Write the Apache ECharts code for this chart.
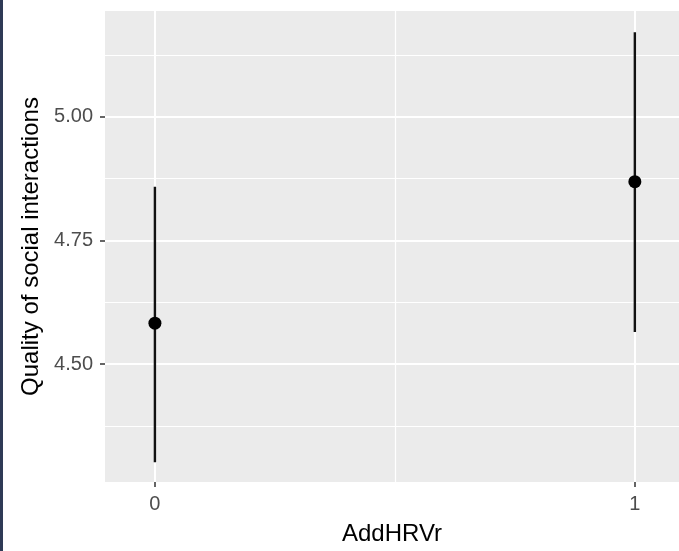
<!DOCTYPE html>
<html>
<head>
<meta charset="utf-8">
<script src="https://cdn.jsdelivr.net/npm/echarts@6/dist/echarts.min.js"></script>
<style>
    html, body { margin: 0; padding: 0; background: #fff; }
    #wrap { position: relative; width: 679px; height: 551px; }
    #edge { position: absolute; left: 0; top: 0; width: 3px; height: 551px; background: #2e3a56; z-index: 2; }
    #chartMain { width: 679px; height: 551px; }
</style>
</head>
<body>
<div id="wrap">
    <div id="edge"></div>
    <div id="chartMain"></div>
</div>
<script>
    // values
    var groups = [0, 1];
    var means = [4.583, 4.869];
    var lower = [4.302, 4.565];
    var upper = [4.859, 5.171];

    var xTicks = [0, 1];
    var xMinor = [0.5];
    var yTicks = [4.50, 4.75, 5.00];
    var yMinor = [4.375, 4.625, 4.875, 5.125];
    var xRange = [-0.104, 1.092];
    var yRange = [4.262, 5.214];

    var font = '"Liberation Sans", Arial, sans-serif';

    var pointData = groups.map(function (g, i) { return [g, means[i]]; });
    var barData = groups.map(function (g, i) { return [g, lower[i], upper[i]]; });

    var option = {
        animation: false,
        backgroundColor: '#fff',
        grid: {
            left: 105,
            right: 0,
            top: 11,
            bottom: 68,
            show: true,
            backgroundColor: '#ebebeb',
            borderWidth: 0
        },
        xAxis: [
            {
                type: 'value',
                min: xRange[0],
                max: xRange[1],
                name: 'AddHRVr',
                nameLocation: 'middle',
                nameGap: 40,
                nameTextStyle: { color: '#000', fontSize: 24, fontFamily: font },
                axisLine: { show: false, onZero: false },
                axisTick: { show: true, length: 5, customValues: xTicks, lineStyle: { color: '#333', width: 1.5 } },
                axisLabel: { customValues: xTicks, color: '#4d4d4d', fontSize: 20, fontFamily: font, margin: 12 },
                splitLine: { show: true, lineStyle: { color: '#fff', width: 2 } }
            },
            {
                // minor grid
                type: 'value',
                min: xRange[0],
                max: xRange[1],
                axisLine: { show: false, onZero: false },
                axisTick: { show: false, customValues: xMinor },
                axisLabel: { show: false },
                splitLine: { show: true, lineStyle: { color: '#fff', width: 1.2 } }
            }
        ],
        yAxis: [
            {
                type: 'value',
                min: yRange[0],
                max: yRange[1],
                name: 'Quality of social interactions',
                nameLocation: 'middle',
                nameGap: 62,
                nameTextStyle: { color: '#000', fontSize: 24, fontFamily: font },
                axisLine: { show: false, onZero: false },
                axisTick: { show: true, length: 5, customValues: yTicks, lineStyle: { color: '#333', width: 1.5 } },
                axisLabel: {
                    customValues: yTicks,
                    color: '#4d4d4d',
                    fontSize: 20,
                    fontFamily: font,
                    margin: 12,
                    formatter: function (v) { return v.toFixed(2); }
                },
                splitLine: { show: true, lineStyle: { color: '#fff', width: 2 } }
            },
            {
                // minor grid
                type: 'value',
                min: yRange[0],
                max: yRange[1],
                axisLine: { show: false, onZero: false },
                axisTick: { show: false, customValues: yMinor },
                axisLabel: { show: false },
                splitLine: { show: true, lineStyle: { color: '#fff', width: 1.2 } }
            }
        ],
        series: [
            {
                // error bars
                type: 'custom',
                xAxisIndex: 0,
                yAxisIndex: 0,
                encode: { x: 0, y: [1, 2] },
                data: barData,
                z: 3,
                renderItem: function (params, api) {
                    var a = api.coord([api.value(0), api.value(1)]);
                    var b = api.coord([api.value(0), api.value(2)]);
                    return {
                        type: 'line',
                        shape: { x1: a[0], y1: a[1], x2: b[0], y2: b[1] },
                        style: { stroke: '#111', lineWidth: 2.4 }
                    };
                }
            },
            {
                type: 'scatter',
                xAxisIndex: 0,
                yAxisIndex: 0,
                symbol: 'circle',
                symbolSize: 13,
                itemStyle: { color: '#000', opacity: 1 },
                data: pointData,
                z: 4
            }
        ]
    };

    var myChart = echarts.init(document.getElementById('chartMain'));
    myChart.setOption(option);
</script>
</body>
</html>
